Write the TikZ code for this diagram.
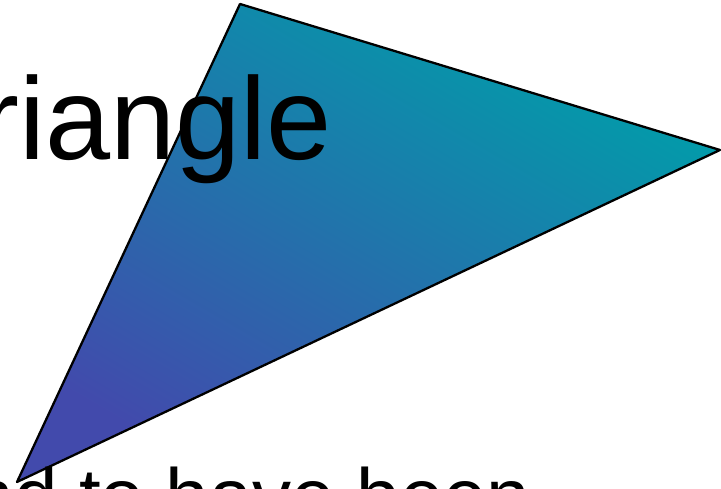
\documentclass[tikz,border=0pt]{standalone}
\usepackage{fontspec}
\setmainfont{Liberation Sans}
\usetikzlibrary{positioning}
\definecolor{tribottom}{RGB}{66, 74, 172}
\definecolor{tritop}{RGB}{0, 158, 170}

\begin{document}
\begin{tikzpicture}[
    x=1cm, y=1cm,
    bigtext/.style={font=\fontsize{33.3}{40}\selectfont, inner sep=0pt, anchor=base west, text=black},
    smalltext/.style={font=\fontsize{22.2}{27}\selectfont, inner sep=0pt, anchor=base west, text=black},
    tri/.style={draw=black, line width=0.65pt, line join=round, top color=tritop, bottom color=tribottom, shading angle=-30}
]
    \useasboundingbox (0,0) rectangle (7.21,4.89);
    \clip (0,0) rectangle (7.21,4.89);
    % corners of the triangle
    \coordinate (apex) at (2.40,4.85);
    \coordinate (tip) at (7.20,3.39);
    \coordinate (foot) at (0.17,0.07);
    \path[tri] (apex) -- (tip) -- (foot) -- cycle;
    % clipped captions
    \node[bigtext] (title) at (-0.20,3.29) {riangle};
    \node[smalltext] (caption) at (-0.30,-0.35) {nd to have been};
\end{tikzpicture}
\end{document}
